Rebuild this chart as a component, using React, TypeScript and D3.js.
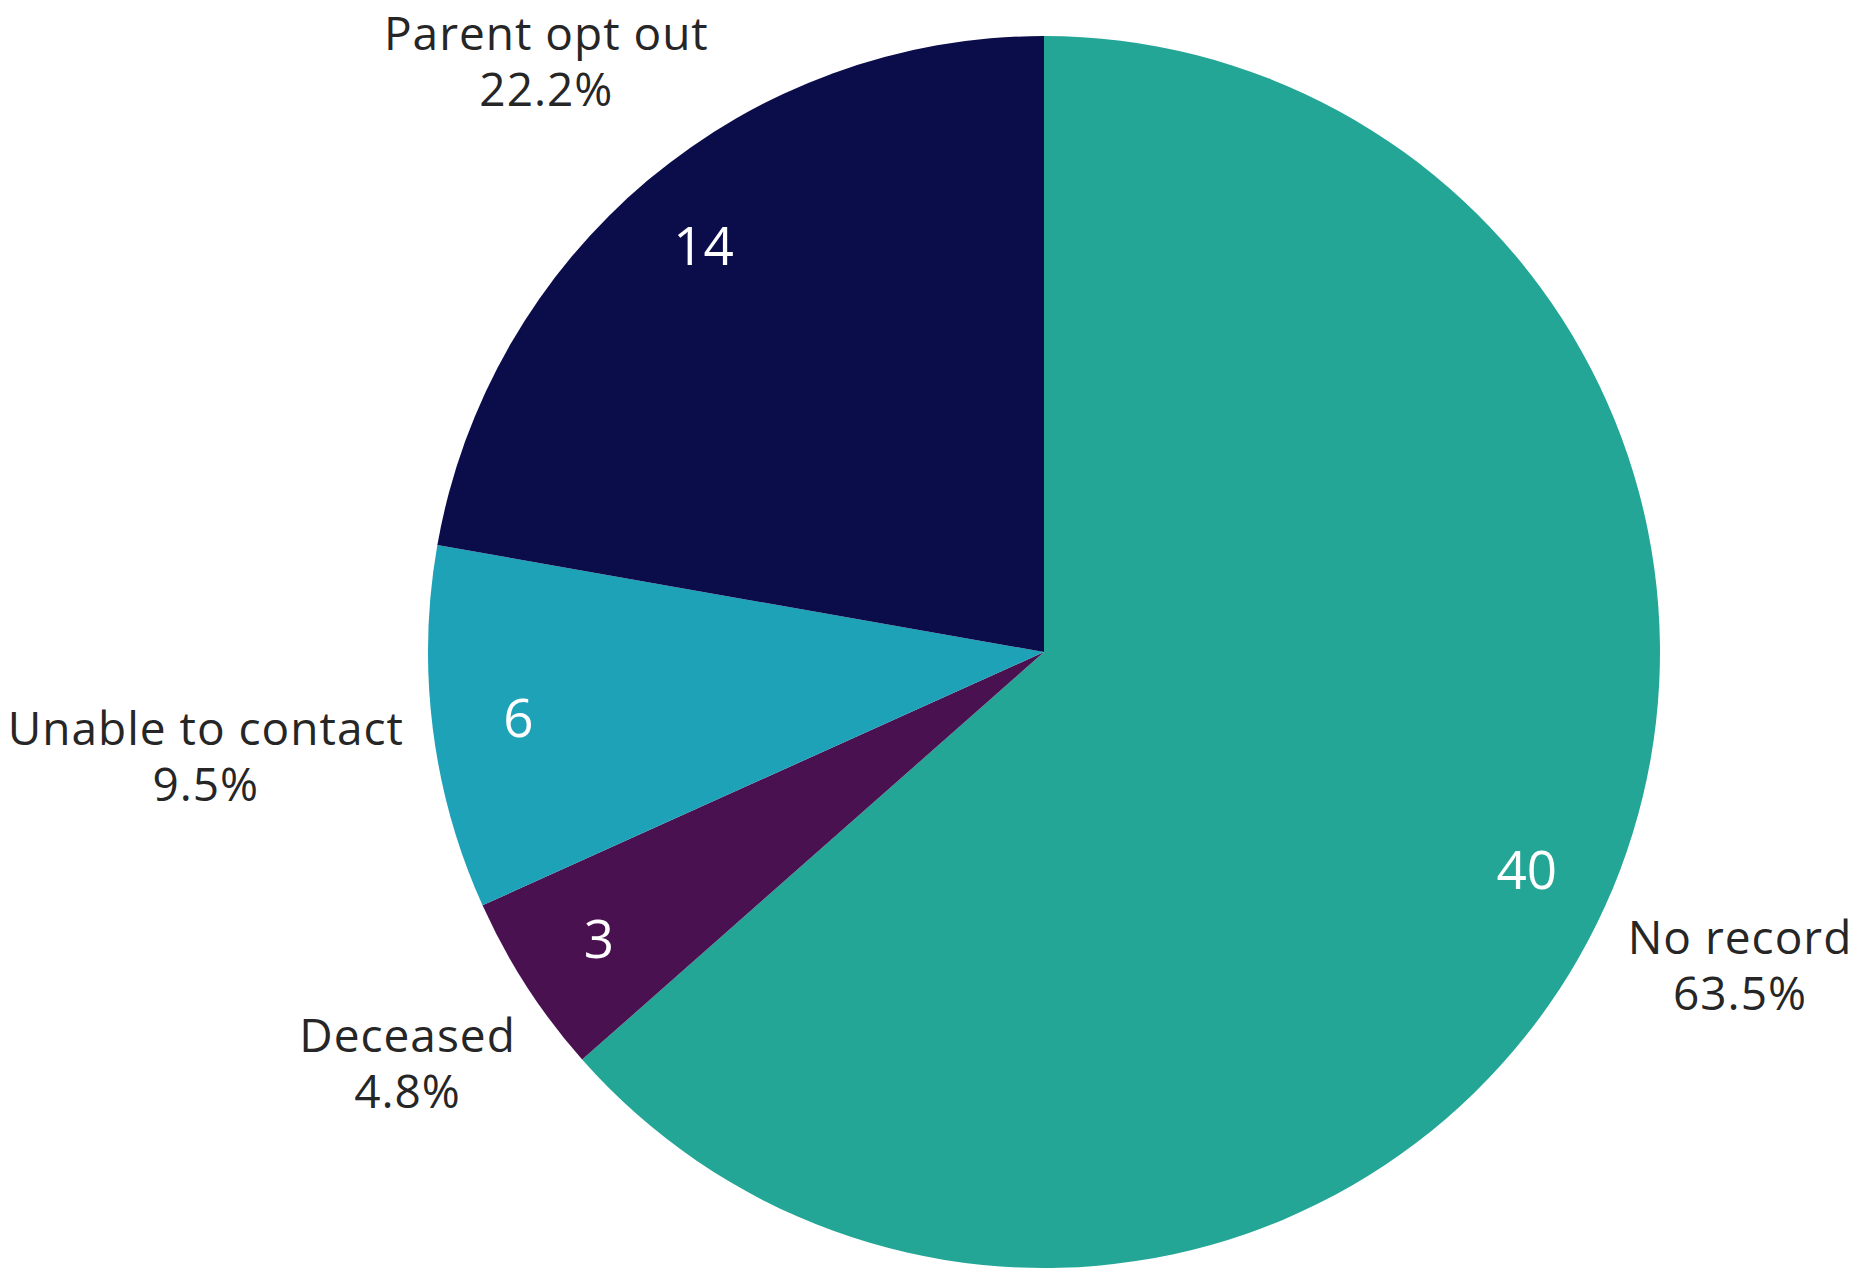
import React, { useEffect, useRef } from "react";
import * as d3 from "d3";

const categories = ["No record", "Deceased", "Unable to contact", "Parent opt out"];
const values = [40, 3, 6, 14];
const colors = ["#23A696", "#4A1150", "#1DA2B8", "#0B0C4A"];

const W = 1859;
const H = 1268;

export default function App() {
  const ref = useRef<SVGSVGElement | null>(null);

  useEffect(() => {
    document.body.style.margin = "0";
    const svg = d3.select(ref.current);
    svg.selectAll("*").remove();

    const cx = 1044;
    const cy = 652;
    const r = 616;
    const gap = 27;
    const total = d3.sum(values);

    const pie = d3
      .pie<number>()
      .sort(null)
      .value((d) => d)
      .startAngle(0)
      .endAngle(2 * Math.PI);
    const arcs = pie(values);
    const arc = d3.arc<d3.PieArcDatum<number>>().innerRadius(0).outerRadius(r);

    const g = svg.append("g").attr("transform", `translate(${cx},${cy})`);

    g.selectAll("path.slice")
      .data(arcs)
      .join("path")
      .attr("class", "slice")
      .attr("d", arc as any)
      .attr("fill", (_d, i) => colors[i]);

    // inside value labels
    const innerR = r * 0.86;
    g.selectAll("text.val")
      .data(arcs)
      .join("text")
      .attr("class", "val")
      .attr("x", (d) => Math.sin((d.startAngle + d.endAngle) / 2) * innerR)
      .attr("y", (d) => -Math.cos((d.startAngle + d.endAngle) / 2) * innerR)
      .attr("dy", "0.36em")
      .attr("text-anchor", "middle")
      .attr("fill", "#ffffff")
      .attr("font-family", "'Open Sans', sans-serif")
      .attr("font-size", 53)
      .text((d) => String(d.data));

    // outside category labels
    const fs = 46;
    const capH = fs * 0.714;
    const ascent = fs * 1.07;
    const lineGap = 56;
    const boxH = capH + lineGap;

    arcs.forEach((d, i) => {
      const a = (d.startAngle + d.endAngle) / 2;
      const dx = Math.sin(a);
      const dy = -Math.cos(a);
      const lbl = g
        .append("text")
        .attr("text-anchor", "middle")
        .attr("fill", "#262626")
        .attr("font-family", "'Open Sans', sans-serif")
        .attr("font-size", fs)
        .attr("letter-spacing", 1);
      const t1 = lbl.append("tspan").text(categories[i]);
      const t2 = lbl
        .append("tspan")
        .text(((values[i] / total) * 100).toFixed(1) + "%");
      const w1 = (t1.node() as SVGTextContentElement).getComputedTextLength();
      const w2 = (t2.node() as SVGTextContentElement).getComputedTextLength();
      const hw = Math.max(w1, w2) / 2;
      const hh = boxH / 2;
      const target = r + gap;
      let lo = 0;
      let hi = 3000;
      for (let k = 0; k < 60; k++) {
        const R = (lo + hi) / 2;
        const px = Math.max(Math.abs(R * dx) - hw, 0);
        const py = Math.max(Math.abs(R * dy) - hh, 0);
        const dist = Math.sqrt(px * px + py * py);
        if (dist < target) lo = R;
        else hi = R;
      }
      const R = (lo + hi) / 2;
      const bx = R * dx;
      const by = R * dy;
      let base1 = by - hh + capH;
      // keep the full text box inside the drawing
      const minBase = -cy + ascent + 1;
      if (base1 < minBase) base1 = minBase;
      t1.attr("x", bx).attr("y", base1);
      t2.attr("x", bx).attr("y", base1 + lineGap);
    });
  }, []);

  return (
    <svg
      ref={ref}
      width={W}
      height={H}
      style={{ display: "block", background: "#ffffff" }}
    />
  );
}
